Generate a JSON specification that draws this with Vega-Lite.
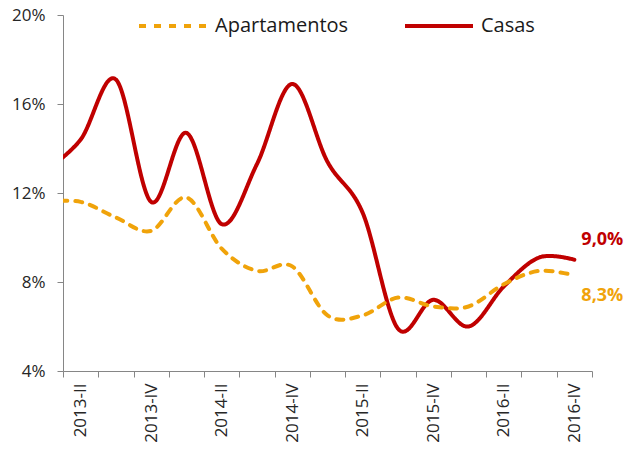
{
  "$schema": "https://vega.github.io/schema/vega-lite/v6.json",
  "width": 529,
  "height": 356,
  "autosize": {"type": "none"},
  "padding": {"left": 63, "top": 15, "right": 33, "bottom": 80},
  "background": "white",
  "config": {
    "locale": {"number": {"decimal": ",", "thousands": ".", "grouping": [3], "currency": ["", " €"]}},
    "view": {"stroke": null},
    "font": "Open Sans"
  },
  "data": {
    "values": [
      {"i": -1, "periodo": "2013-I", "serie": "Casas", "valor": 0.130},
      {"i": 0, "periodo": "2013-II", "serie": "Casas", "valor": 0.144},
      {"i": 1, "periodo": "2013-III", "serie": "Casas", "valor": 0.171},
      {"i": 2, "periodo": "2013-IV", "serie": "Casas", "valor": 0.116},
      {"i": 3, "periodo": "2014-I", "serie": "Casas", "valor": 0.147},
      {"i": 4, "periodo": "2014-II", "serie": "Casas", "valor": 0.106},
      {"i": 5, "periodo": "2014-III", "serie": "Casas", "valor": 0.133},
      {"i": 6, "periodo": "2014-IV", "serie": "Casas", "valor": 0.169},
      {"i": 7, "periodo": "2015-I", "serie": "Casas", "valor": 0.134},
      {"i": 8, "periodo": "2015-II", "serie": "Casas", "valor": 0.111},
      {"i": 9, "periodo": "2015-III", "serie": "Casas", "valor": 0.059},
      {"i": 10, "periodo": "2015-IV", "serie": "Casas", "valor": 0.072},
      {"i": 11, "periodo": "2016-I", "serie": "Casas", "valor": 0.060},
      {"i": 12, "periodo": "2016-II", "serie": "Casas", "valor": 0.078},
      {"i": 13, "periodo": "2016-III", "serie": "Casas", "valor": 0.091},
      {"i": 14, "periodo": "2016-IV", "serie": "Casas", "valor": 0.090},
      {"i": -1, "periodo": "2013-I", "serie": "Apartamentos", "valor": 0.116},
      {"i": 0, "periodo": "2013-II", "serie": "Apartamentos", "valor": 0.116},
      {"i": 1, "periodo": "2013-III", "serie": "Apartamentos", "valor": 0.109},
      {"i": 2, "periodo": "2013-IV", "serie": "Apartamentos", "valor": 0.103},
      {"i": 3, "periodo": "2014-I", "serie": "Apartamentos", "valor": 0.118},
      {"i": 4, "periodo": "2014-II", "serie": "Apartamentos", "valor": 0.095},
      {"i": 5, "periodo": "2014-III", "serie": "Apartamentos", "valor": 0.085},
      {"i": 6, "periodo": "2014-IV", "serie": "Apartamentos", "valor": 0.087},
      {"i": 7, "periodo": "2015-I", "serie": "Apartamentos", "valor": 0.065},
      {"i": 8, "periodo": "2015-II", "serie": "Apartamentos", "valor": 0.065},
      {"i": 9, "periodo": "2015-III", "serie": "Apartamentos", "valor": 0.073},
      {"i": 10, "periodo": "2015-IV", "serie": "Apartamentos", "valor": 0.069},
      {"i": 11, "periodo": "2016-I", "serie": "Apartamentos", "valor": 0.069},
      {"i": 12, "periodo": "2016-II", "serie": "Apartamentos", "valor": 0.079},
      {"i": 13, "periodo": "2016-III", "serie": "Apartamentos", "valor": 0.085},
      {"i": 14, "periodo": "2016-IV", "serie": "Apartamentos", "valor": 0.083}
    ]
  },
  "encoding": {
    "x": {
      "field": "i", "type": "quantitative",
      "scale": {"domain": [-0.5, 14.5], "nice": false, "zero": false},
      "axis": {
        "title": null,
        "grid": false,
        "values": [-0.5, 0.5, 1.5, 2.5, 3.5, 4.5, 5.5, 6.5, 7.5, 8.5, 9.5, 10.5, 11.5, 12.5, 13.5, 14.5],
        "labelExpr": "((datum.value + 0.5) % 2 == 0 && datum.value < 14) ? ['2013-II','2013-III','2013-IV','2014-I','2014-II','2014-III','2014-IV','2015-I','2015-II','2015-III','2015-IV','2016-I','2016-II','2016-III','2016-IV'][datum.value + 0.5] : ''",
        "labelOffset": 17.63,
        "labelAngle": -90,
        "labelAlign": "right",
        "labelBaseline": "middle",
        "labelPadding": 6,
        "labelFont": "Open Sans",
        "labelFontSize": 17,
        "labelColor": "#262626",
        "labelBound": false,
        "labelFlush": false,
        "labelOverlap": false,
        "domainColor": "#868686",
        "domainWidth": 1,
        "tickColor": "#868686",
        "tickSize": 6,
        "tickWidth": 1
      }
    },
    "y": {
      "field": "valor", "type": "quantitative",
      "scale": {"domain": [0.04, 0.20], "nice": false, "zero": false},
      "axis": {
        "title": null,
        "grid": false,
        "values": [0.04, 0.08, 0.12, 0.16, 0.20],
        "format": ".0%",
        "labelFont": "Open Sans",
        "labelFontSize": 17,
        "labelColor": "#262626",
        "labelPadding": 12,
        "domainColor": "#868686",
        "domainWidth": 1,
        "tickColor": "#868686",
        "tickSize": 6,
        "tickWidth": 1
      }
    },
    "color": {
      "field": "serie", "type": "nominal",
      "scale": {"domain": ["Apartamentos", "Casas"], "range": ["#F0A30A", "#C00000"]},
      "legend": {
        "title": null,
        "orient": "none",
        "direction": "horizontal",
        "legendX": 74,
        "legendY": -25,
        "padding": 0,
        "symbolType": "stroke",
        "symbolSize": 4624,
        "symbolStrokeWidth": 4,
        "labelFont": "Open Sans",
        "labelFontSize": 20,
        "labelColor": "#1a1a1a",
        "labelOffset": 6,
        "columnPadding": 48,
        "labelLimit": 300
      }
    },
    "strokeDash": {
      "field": "serie", "type": "nominal",
      "scale": {"domain": ["Apartamentos", "Casas"], "range": [[7, 8], [1, 0]]},
      "legend": null
    }
  },
  "layer": [
    {
      "mark": {"type": "line", "interpolate": "cardinal", "tension": 0, "strokeWidth": 4, "strokeCap": "round", "strokeJoin": "round", "clip": true}
    },
    {
      "transform": [{"filter": "datum.i == 14 && datum.serie == 'Casas'"}],
      "mark": {"type": "text", "align": "left", "baseline": "middle", "dx": 7, "dy": -20, "fontSize": 18, "fontWeight": "bold", "font": "Open Sans"},
      "encoding": {
        "text": {"field": "valor", "type": "quantitative", "format": ".1%"},
        "strokeDash": null
      }
    },
    {
      "transform": [{"filter": "datum.i == 14 && datum.serie == 'Apartamentos'"}],
      "mark": {"type": "text", "align": "left", "baseline": "middle", "dx": 7, "dy": 21, "fontSize": 18, "fontWeight": "bold", "font": "Open Sans"},
      "encoding": {
        "text": {"field": "valor", "type": "quantitative", "format": ".1%"},
        "strokeDash": null
      }
    }
  ]
}
